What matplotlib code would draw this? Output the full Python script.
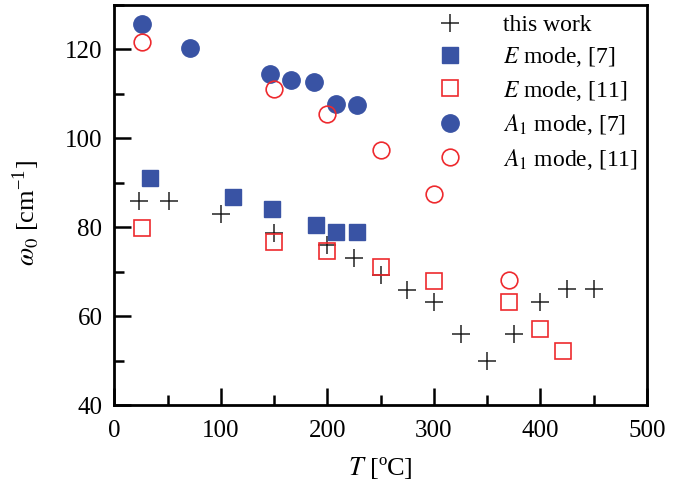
import matplotlib.pyplot as plt
from matplotlib.ticker import MultipleLocator

plt.rcParams['font.family'] = ['Liberation Serif', 'DejaVu Serif']
plt.rcParams['mathtext.fontset'] = 'stix'

# this work
t_work = [23, 51, 100, 150, 200, 225, 250, 275, 300, 325, 350, 375, 400, 425, 450]
w_work = [86, 86, 83, 78.7, 76, 73, 69.2, 66, 63.2, 56, 50, 56, 63.2, 66.2, 66.2]

# E mode, [7]
t_e7 = [34, 111, 148, 189, 208, 228]
w_e7 = [91.1, 86.8, 84.0, 80.5, 79.0, 79.0]

# E mode, [11]
t_e11 = [26, 150, 200, 250, 300, 370, 400, 421]
w_e11 = [79.8, 76.6, 74.7, 71.1, 68.0, 63.2, 57.1, 52.2]

# A1 mode, [7]
t_a7 = [26, 71, 146, 166, 187, 208, 228]
w_a7 = [125.6, 120.2, 114.4, 113.1, 112.6, 107.8, 107.6]

# A1 mode, [11]
t_a11 = [26, 150, 200, 250, 300, 370]
w_a11 = [121.7, 111.1, 105.5, 97.3, 87.5, 68.2]

blue = '#3953a4'
red = '#ee2a2e'

fig = plt.figure(figsize=(6.84, 4.87), dpi=100)
ax = fig.add_axes([0.167, 0.168, 0.779, 0.822])

ax.plot(t_work, w_work, ls='none', marker='+', ms=13, mew=1.1, color='#222222', label='this work')
ax.plot(t_e7, w_e7, ls='none', marker='s', ms=12, color=blue, label=r'$E$ mode, [7]')
ax.plot(t_e11, w_e11, ls='none', marker='s', ms=11.5, mfc='none', mec=red, mew=1.2, label=r'$E$ mode, [11]')
ax.plot(t_a7, w_a7, ls='none', marker='o', ms=12.5, color=blue, label=r'$A_1$ mode, [7]')
ax.plot(t_a11, w_a11, ls='none', marker='o', ms=12, mfc='none', mec=red, mew=1.2, label=r'$A_1$ mode, [11]')

ax.set_xlim(0, 500)
ax.set_ylim(40, 130)
ax.xaxis.set_major_locator(MultipleLocator(100))
ax.xaxis.set_minor_locator(MultipleLocator(50))
ax.yaxis.set_major_locator(MultipleLocator(20))
ax.yaxis.set_minor_locator(MultipleLocator(10))
ax.tick_params(which='both', direction='in', top=False, right=False, width=1.8, labelsize=18, pad=8.5)
ax.tick_params(axis='x', which='both', pad=11)
ax.tick_params(which='major', length=12)
ax.tick_params(which='minor', length=7)
for s in ax.spines.values():
    s.set_linewidth(2)

ax.set_xlabel(r'$T$ [ºC]', fontsize=19, labelpad=9)
ax.set_ylabel(r'$\omega_0$ [cm$^{\mathregular{-1}}$]', fontsize=19)
ax.yaxis.set_label_coords(-0.135, 0.48)

ax.legend(loc='upper right', frameon=False, fontsize=17, handletextpad=1.5,
          labelspacing=0.4, borderaxespad=0.1, borderpad=0.3, handlelength=1.5)

fig.savefig('out.png', dpi=100)
